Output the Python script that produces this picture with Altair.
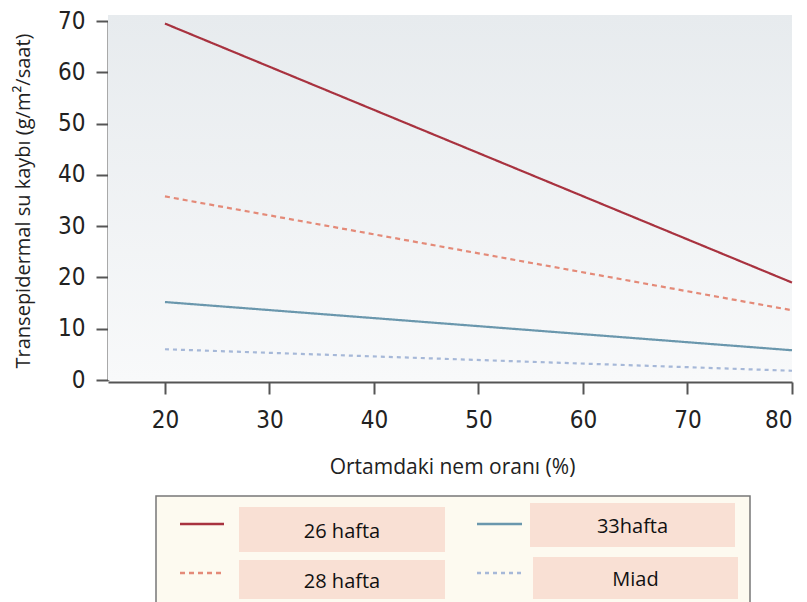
import altair as alt
import pandas as pd

# ---- data ----
series = ["26 hafta", "28 hafta", "33hafta", "Miad"]
humidity = [20, 80]
loss_26 = [69.5, 19.0]
loss_28 = [35.8, 13.6]
loss_33 = [15.2, 5.8]
loss_miad = [6.0, 1.8]
x_ticks = [20, 30, 40, 50, 60, 70, 80]
y_ticks = [0, 10, 20, 30, 40, 50, 60, 70]

colors = ["#a8323f", "#e48a78", "#6a97ad", "#a6b8d8"]
legend_colors = ["#b04450", "#e7a08e", "#8fb3cc", "#9aa4b8"]
dashes = [[1, 0], [5, 4], [1, 0], [4, 4]]
legend_col = [0, 0, 1, 1]
legend_row = [0, 1, 0, 1]

rows = []
for name, vals in zip(series, [loss_26, loss_28, loss_33, loss_miad]):
    for h, v in zip(humidity, vals):
        rows.append({"seri": name, "nem": h, "kayip": v})
df = pd.DataFrame(rows)

TITLE_FONT = "Open Sans"
TICK_FONT = "DejaVu Sans Condensed"

W, H = 684, 359

x_scale = alt.Scale(domain=[14.55, 80], nice=False, zero=False)
y_scale = alt.Scale(domain=[0, 70], nice=False)

gradient = alt.LinearGradient(
    gradient="linear", x1=0, y1=0, x2=0, y2=1,
    stops=[alt.GradientStop(color="#e7ebee", offset=0),
           alt.GradientStop(color="#f8f9fa", offset=1)])

bg = alt.Chart(pd.DataFrame({"a": [0]})).mark_rect(color=gradient).encode(
    x=alt.value(0), x2=alt.value(W), y=alt.value(-6), y2=alt.value(H))

lines = alt.Chart(df).mark_line(strokeWidth=2.2).encode(
    x=alt.X("nem:Q", scale=x_scale,
            axis=alt.Axis(title="Ortamdaki nem oranı (%)", values=x_ticks,
                          grid=False, domain=True, domainColor="#555555",
                          domainWidth=2, tickColor="#555555", tickWidth=2,
                          tickSize=12, labelPadding=14,
                          offset=2,
                          labelFont=TICK_FONT, labelFontSize=24,
                          labelColor="#222222",
                          titleFont=TITLE_FONT, titleFontSize=21,
                          titleFontWeight="normal", titleColor="#222222",
                          titlePadding=24, titleX=344)),
    y=alt.Y("kayip:Q", scale=y_scale,
            axis=alt.Axis(title="Transepidermal su kaybı (g/m²/saat)",
                          values=y_ticks, grid=False, domain=True,
                          domainColor="#555555", domainWidth=2,
                          tickColor="#555555", tickWidth=2, tickSize=12,
                          labelPadding=11,
                          labelFont=TICK_FONT, labelFontSize=24,
                          labelColor="#222222",
                          titleFont=TITLE_FONT, titleFontSize=20,
                          titleFontWeight="normal", titleColor="#222222",
                          titlePadding=24)),
    color=alt.Color("seri:N", scale=alt.Scale(domain=series, range=colors),
                    legend=None),
    strokeDash=alt.StrokeDash("seri:N",
                              scale=alt.Scale(domain=series, range=dashes),
                              legend=None),
)

main_layer = alt.layer(bg, lines).properties(width=W, height=H)

# ---- legend panel (layout in page-like pixel units) ----
LH = 110
lx = alt.Scale(domain=[106, 790], nice=False, zero=False)
ly = alt.Scale(domain=[602, 492], nice=False, zero=False)

leg = pd.DataFrame({
    "seri": series,
    "col": legend_col,
    "row": legend_row,
})
col_sym_x1 = {0: 178, 1: 475}
col_sym_x2 = {0: 222, 1: 520}
box_x1 = {(0, 0): 237, (0, 1): 237, (1, 0): 528, (1, 1): 531}
box_x2 = {(0, 0): 443, (0, 1): 443, (1, 0): 733, (1, 1): 736}
box_y1 = {(0, 0): 503, (0, 1): 556, (1, 0): 499, (1, 1): 553}
box_y2 = {(0, 0): 548, (0, 1): 595, (1, 0): 543, (1, 1): 595}
sym_y = {0: 520, 1: 569}
leg["sx1"] = [col_sym_x1[c] for c in leg["col"]]
leg["sx2"] = [col_sym_x2[c] for c in leg["col"]]
leg["sy"] = [sym_y[r] for r in leg["row"]]
leg["bx1"] = [box_x1[(c, r)] for c, r in zip(leg["col"], leg["row"])]
leg["bx2"] = [box_x2[(c, r)] for c, r in zip(leg["col"], leg["row"])]
leg["by1"] = [box_y1[(c, r)] for c, r in zip(leg["col"], leg["row"])]
leg["by2"] = [box_y2[(c, r)] for c, r in zip(leg["col"], leg["row"])]
leg["tx"] = (leg["bx1"] + leg["bx2"]) / 2
leg["ty"] = (leg["by1"] + leg["by2"]) / 2 + 2

frame = alt.Chart(pd.DataFrame({"x1": [154], "x2": [748], "y1": [492], "y2": [601]})
                  ).mark_rect(fill="#fdfaf0", stroke="#777777", strokeWidth=1.5).encode(
    x=alt.X("x1:Q", scale=lx, axis=None), x2="x2:Q",
    y=alt.Y("y1:Q", scale=ly, axis=None), y2="y2:Q")

boxes = alt.Chart(leg).mark_rect(fill="#f9e0d4").encode(
    x=alt.X("bx1:Q", scale=lx, axis=None), x2="bx2:Q",
    y=alt.Y("by1:Q", scale=ly, axis=None), y2="by2:Q")

syms = alt.Chart(leg).mark_rule(strokeWidth=2.5).encode(
    x=alt.X("sx1:Q", scale=lx, axis=None), x2="sx2:Q",
    y=alt.Y("sy:Q", scale=ly, axis=None),
    color=alt.Color("seri:N", scale=alt.Scale(domain=series, range=legend_colors),
                    legend=None),
    strokeDash=alt.StrokeDash("seri:N",
                              scale=alt.Scale(domain=series, range=[[1, 0], [4, 3], [1, 0], [4, 3]]),
                              legend=None))

texts = alt.Chart(leg).mark_text(font="Open Sans", fontSize=20, color="#111111",
                                 baseline="middle", align="center").encode(
    x=alt.X("tx:Q", scale=lx, axis=None),
    y=alt.Y("ty:Q", scale=ly, axis=None),
    text="seri:N")

legend_panel = alt.layer(frame, boxes, syms, texts).properties(
    width=W, height=LH)

chart = alt.vconcat(main_layer, legend_panel, spacing=18).properties(
    padding={"left": 5, "top": 1, "right": 0, "bottom": 0},
    background="white",
).configure_view(strokeOpacity=0)

chart.save("out.html", embed_options={"renderer": "svg", "actions": False})
